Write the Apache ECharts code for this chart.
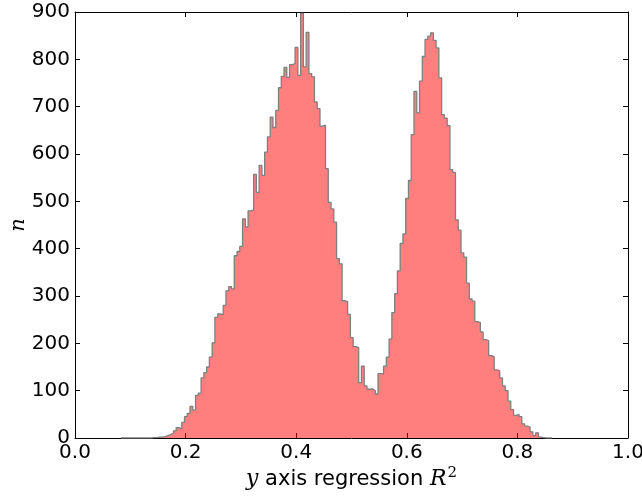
<!DOCTYPE html>
<html>
<head>
<meta charset="utf-8">
<script src="https://cdn.jsdelivr.net/npm/echarts@6/dist/echarts.min.js"></script>
<style>
  html, body { margin: 0; padding: 0; background: #fff; }
  #chart { width: 642px; height: 499px; }
</style>
</head>
<body>
<div id="chart"></div>
<script>
// histogram bins: left edge of the first bin and bin width
const binStart = 0.083
const binWidth = 0.005

// counts per bin
const counts = [
  0, 0, 0, 0, 0, 0, 0, 0, 0, 0, 0, 1, 1, 2,
  2, 3, 5, 7, 10, 15, 22, 19, 33, 45,
  52, 67, 59, 90, 95, 127, 138, 150, 171, 201,
  255, 262, 260, 280, 311, 320, 315, 385, 394, 405,
  463, 446, 480, 482, 557, 519, 576, 555, 604, 636,
  678, 656, 692, 740, 764, 783, 762, 789, 791, 825,
  766, 897, 784, 857, 770, 763, 710, 696, 659, 661,
  569, 498, 484, 456, 379, 368, 290, 288, 261, 212,
  193, 191, 117, 152, 110, 103, 104, 100, 93, 136,
  135, 152, 171, 209, 265, 305, 353, 411, 431, 506,
  544, 641, 732, 687, 754, 806, 842, 849, 856, 840,
  824, 761, 683, 676, 660, 567, 561, 461, 439, 391,
  382, 327, 294, 289, 246, 244, 224, 208, 206, 174,
  172, 144, 142, 127, 110, 100, 78, 60, 48, 50,
  45, 30, 25, 23, 13, 5, 11, 2, 1, 0, 0, 0
]

const xTicks = [0, 0.2, 0.4, 0.6, 0.8, 1.0]
const yMax = 900

// step outline: one point per bin left edge, closing at the last right edge
const points = [[binStart, 0]]
counts.forEach((c, i) => points.push([+(binStart + i * binWidth).toFixed(4), c]))
points.push([+(binStart + counts.length * binWidth).toFixed(4), 0])

const font = 'DejaVu Sans'
const tick = { show: true, inside: true, length: 5, lineStyle: { color: '#000', width: 1 } }
const line = { show: true, onZero: false, lineStyle: { color: '#000', width: 1 } }

const chart = echarts.init(document.getElementById('chart'))
chart.setOption({
  animation: false,
  backgroundColor: '#fff',
  grid: { left: 75, right: 14, top: 12, bottom: 61, containLabel: false, outerBoundsMode: 'none' },
  xAxis: [{
    type: 'value',
    min: xTicks[0],
    max: xTicks[xTicks.length - 1],
    interval: 0.2,
    axisLine: line,
    axisTick: tick,
    splitLine: { show: false },
    axisLabel: {
      color: '#000', fontFamily: font, fontSize: 20, margin: 5,
      formatter: v => v.toFixed(1)
    },
    name: '{i|y} axis regression {i|R}{s|2}',
    nameLocation: 'middle',
    nameGap: 28,
    nameMoveOverlap: false,
    nameTextStyle: {
      color: '#000', fontFamily: font, fontSize: 21,
      rich: {
        i: { fontFamily: 'DejaVu Serif', fontStyle: 'italic', fontSize: 22, color: '#000' },
        s: { fontFamily: 'DejaVu Serif', fontSize: 15, verticalAlign: 'top', padding: [0, 0, 12, 1], color: '#000' }
      }
    }
  }, {
    type: 'value',
    position: 'top',
    min: 0, max: 1, interval: 0.2,
    axisLine: line,
    axisTick: tick,
    axisLabel: { show: false },
    splitLine: { show: false }
  }],
  yAxis: [{
    type: 'value',
    min: 0,
    max: yMax,
    interval: 100,
    axisLine: line,
    axisTick: tick,
    splitLine: { show: false },
    axisLabel: { color: '#000', fontFamily: font, fontSize: 20, margin: 5 },
    name: 'n',
    nameLocation: 'middle',
    nameGap: 46,
    nameMoveOverlap: false,
    nameRotate: 90,
    nameTextStyle: { color: '#000', fontFamily: 'DejaVu Serif', fontStyle: 'italic', fontSize: 21 }
  }, {
    type: 'value',
    position: 'right',
    min: 0, max: yMax, interval: 100,
    axisLine: line,
    axisTick: tick,
    axisLabel: { show: false },
    splitLine: { show: false }
  }],
  series: [{
    type: 'line',
    step: 'end',
    data: points,
    symbol: 'none',
    lineStyle: { color: '#7f7f7f', width: 1.3 },
    areaStyle: { color: 'rgba(255,0,0,0.5)', opacity: 1 },
    z: 1
  }]
})
</script>
</body>
</html>
